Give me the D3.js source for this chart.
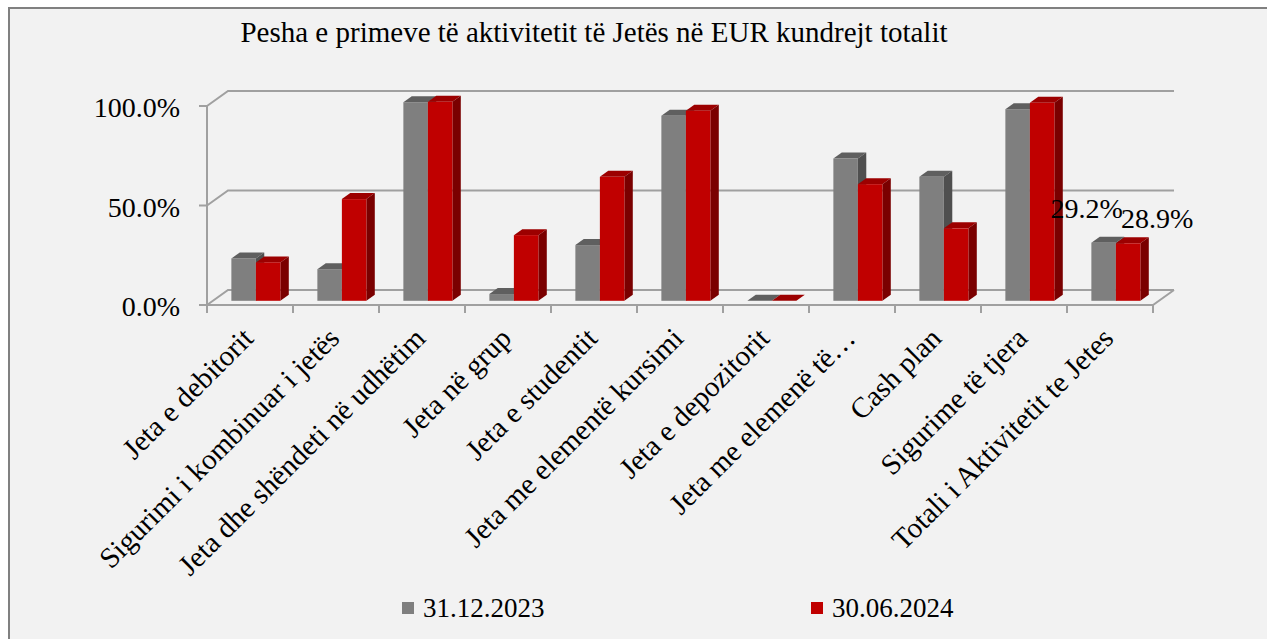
<!DOCTYPE html>
<html>
<head>
<meta charset="utf-8">
<script src="https://cdn.jsdelivr.net/npm/d3@7"></script>
<style>
  html, body { margin: 0; padding: 0; background: #fff; }
  svg text { font-family: "Liberation Serif", "Times New Roman", serif; fill: #000; }
</style>
</head>
<body>
<svg width="1267" height="639"></svg>
<script>
const categories = [
    'Jeta e debitorit',
    'Sigurimi i kombinuar i jetës',
    'Jeta dhe shëndeti në udhëtim',
    'Jeta në grup',
    'Jeta e studentit',
    'Jeta me elementë kursimi',
    'Jeta e depozitorit',
    'Jeta me elemenë të…',
    'Cash plan',
    'Sigurime të tjera',
    'Totali i Aktivitetit te Jetes'
]
const series = ['31.12.2023', '30.06.2024']
const values2023 = [0.213, 0.159, 0.998, 0.034, 0.280, 0.930, 0.0, 0.715, 0.623, 0.963, 0.292]
const values2024 = [0.193, 0.511, 1.0, 0.330, 0.623, 0.955, 0.0, 0.586, 0.364, 0.995, 0.289]
const yTicks = [0, 0.5, 1]
const labelled = ['Totali i Aktivitetit te Jetes']

const colors = {
    '31.12.2023': { front: '#7f7f7f', top: '#5f5f5f', side: '#4f4f4f' },
    '30.06.2024': { front: '#c00000', top: '#9c0000', side: '#7a0000' }
}

const svg = d3.select('svg')

// chart area background + frame
svg.append('rect')
    .attr('x', 9).attr('y', 8)
    .attr('width', 1280).attr('height', 660)
    .attr('fill', '#f2f2f2')
    .attr('stroke', '#808080')
    .attr('stroke-width', 2)

// 3d depth of the wall / floor
const depth = { dx: 21, dy: -15 }
const barDepth = 0.4    // fraction of the floor depth used by the bars
const barFront = 0.28   // where the front face of a bar sits in that depth

const x = d3.scaleBand()
    .domain(categories)
    .range([207, 1153])

const xs = d3.scaleBand()
    .domain(series)
    .range([x.bandwidth() * 0.215, x.bandwidth() * 0.785])

const y = d3.scaleLinear()
    .domain([0, 1])
    .range([305, 106])

const x0 = x.range()[0], x1 = x.range()[1]
const grid = svg.append('g')
    .attr('stroke', '#a0a0a0')
    .attr('stroke-width', 2)
    .attr('fill', 'none')

yTicks.forEach(t => {
    grid.append('path')
        .attr('d', `M${x0},${y(t)} L${x0 + depth.dx},${y(t) + depth.dy} L${x1 + depth.dx},${y(t) + depth.dy}`)
    grid.append('line')
        .attr('x1', x0 - 8).attr('x2', x0)
        .attr('y1', y(t)).attr('y2', y(t))
})
// floor front edge and right edge
grid.append('path')
    .attr('d', `M${x0},${y(0)} L${x1},${y(0)} L${x1 + depth.dx},${y(0) + depth.dy}`)
// vertical axis
grid.append('line')
    .attr('x1', x0).attr('x2', x0)
    .attr('y1', y(1)).attr('y2', y(0))
// category ticks
d3.range(categories.length + 1).forEach(i => {
    const tx = x0 + i * x.step()
    grid.append('line')
        .attr('x1', tx).attr('x2', tx)
        .attr('y1', y(0)).attr('y2', y(0) + 8)
})

// y tick labels
svg.append('g').selectAll('text')
    .data(yTicks)
    .enter().append('text')
    .attr('x', x0 - 27)
    .attr('y', d => y(d) + 11)
    .attr('text-anchor', 'end')
    .style('font-size', '28px')
    .text(d => d3.format('.1%')(d))

// bars
const ox = depth.dx * barFront, oy = depth.dy * barFront
const bx = depth.dx * barDepth, by = depth.dy * barDepth
const bars = []
categories.forEach((c, i) => {
    bars.push({ cat: c, s: series[0], v: values2023[i] })
    bars.push({ cat: c, s: series[1], v: values2024[i] })
})

const barG = svg.append('g')
bars.forEach(d => {
    const left = x(d.cat) + xs(d.s) + ox
    const right = left + xs.bandwidth()
    const bottom = y(0) + oy
    const top = y(d.v) + oy
    const col = colors[d.s]
    const g = barG.append('g')
    // top face
    g.append('path')
        .attr('d', `M${left},${top} L${left + bx},${top + by} L${right + bx},${top + by} L${right},${top} Z`)
        .attr('fill', col.top)
    // side face
    g.append('path')
        .attr('d', `M${right},${top} L${right + bx},${top + by} L${right + bx},${bottom + by} L${right},${bottom} Z`)
        .attr('fill', col.side)
    // front face
    g.append('rect')
        .attr('x', left)
        .attr('y', top)
        .attr('width', xs.bandwidth())
        .attr('height', bottom - top)
        .attr('fill', col.front)
})

// data labels on the total
svg.append('g').selectAll('text')
    .data(bars.filter(d => labelled.includes(d.cat)))
    .enter().append('text')
    .attr('x', d => x(d.cat) + xs(d.s) + xs.bandwidth() / 2 + (d.s === series[0] ? -11 : 35))
    .attr('y', d => y(d.v) - (d.s === series[0] ? 29 : 19))
    .attr('text-anchor', 'middle')
    .style('font-size', '28px')
    .text(d => d3.format('.1%')(d.v))

// category labels
svg.append('g').selectAll('text')
    .data(categories)
    .enter().append('text')
    .attr('text-anchor', 'end')
    .attr('transform', d => `translate(${x(d) + x.bandwidth() / 2 + 5},${y(0) + 35}) rotate(-45)`)
    .style('font-size', '29px')
    .text(d => d)

// title
svg.append('text')
    .attr('x', 594)
    .attr('y', 42)
    .attr('text-anchor', 'middle')
    .style('font-size', '29px')
    .text('Pesha e primeve të aktivitetit të Jetës në EUR kundrejt totalit')

// legend
const legend = svg.append('g').selectAll('g')
    .data(series)
    .enter().append('g')
    .attr('transform', (d, i) => `translate(${[402, 811][i]},602)`)
legend.append('rect')
    .attr('width', 12).attr('height', 12)
    .attr('fill', d => colors[d].front)
legend.append('text')
    .attr('x', 21)
    .attr('y', 15)
    .style('font-size', '27px')
    .text(d => d)
</script>
</body>
</html>
